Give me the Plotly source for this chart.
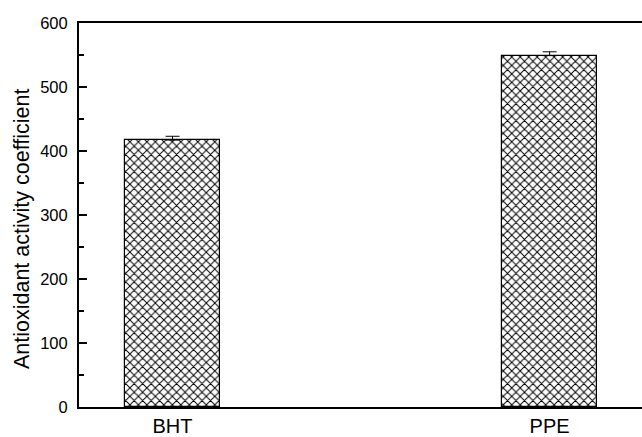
import plotly.graph_objects as go

categories = ["BHT", "PPE"]
values = [417, 549]
errors = [6, 6]
y_ticks = [0, 100, 200, 300, 400, 500, 600]
y_title = "Antioxidant activity coefficient"

fig = go.Figure()
fig.add_trace(go.Bar(
    x=[0, 1], y=values,
    width=0.25,
    marker=dict(color="white", line=dict(color="black", width=1.2),
                pattern=dict(shape="x", size=6, solidity=0.3, fgcolor="black", bgcolor="white", fillmode="replace")),
    error_y=dict(type="data", array=errors, arrayminus=[0, 0], symmetric=False,
                 color="black", thickness=1, width=7),
))

fig.update_layout(
    width=642, height=437,
    margin=dict(l=79, r=0, t=23, b=30),
    paper_bgcolor="white", plot_bgcolor="white",
    showlegend=False,
    font=dict(family="Liberation Sans, Arial, sans-serif", color="black"),
    bargap=0,
)
fig.update_xaxes(
    range=[-0.248, 1.245],
    tickmode="array", tickvals=[0, 1], ticktext=categories,
    ticks="", showgrid=False, zeroline=False,
    showline=True, linecolor="black", linewidth=2, mirror=True,
    tickfont=dict(size=20), ticklabelstandoff=0,
)
fig.update_yaxes(
    range=[0, 600],
    tickmode="array", tickvals=y_ticks,
    ticks="inside", ticklen=8, tickwidth=1.5, tickcolor="black",
    minor=dict(ticks="inside", ticklen=5, tickwidth=1.5, tickcolor="black", dtick=50, showgrid=False),
    showgrid=False, zeroline=False,
    showline=True, linecolor="black", linewidth=2, mirror=False,
    tickfont=dict(size=16.5), ticklabelstandoff=6,
)
fig.add_annotation(
    text=y_title, textangle=-90, showarrow=False,
    xref="paper", yref="paper", x=-0.1012, y=0.4635,
    xanchor="center", yanchor="middle",
    font=dict(size=21.5),
)
fig.write_html("out.html", config={"displayModeBar": False},
               post_script="document.body.style.margin='0';document.body.style.overflow='hidden';")
